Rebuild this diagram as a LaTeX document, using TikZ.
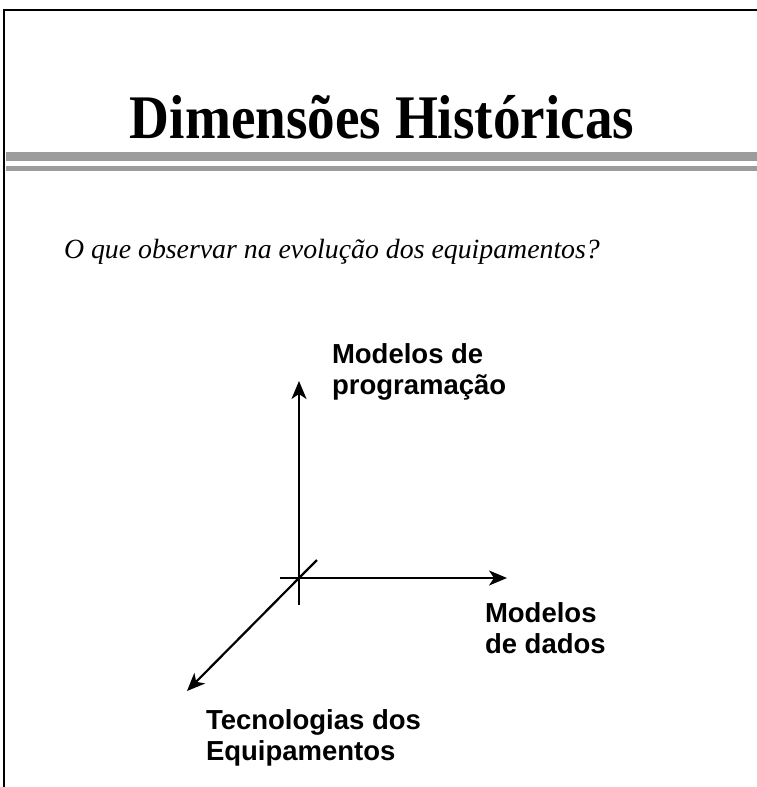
\documentclass[tikz,border=0pt]{standalone}
\usepackage{fontspec}
\setmainfont{Liberation Serif}
\setsansfont{Liberation Sans}
\usetikzlibrary{positioning,arrows.meta}
\tikzset{>={Stealth[length=18pt,width=15pt,inset=5pt]}}
\definecolor{cBar}{RGB}{156,156,156}

\begin{document}
\begin{tikzpicture}[x=1pt, y=-1pt, line width=2pt]

% Stiler.
\tikzset{
  titletext/.style={font=\fontsize{62}{66}\selectfont\bfseries, inner sep=0pt},
  subtext/.style={font=\fontsize{27.8}{32}\selectfont\itshape, inner sep=0pt, anchor=west},
  axislabel/.style={font=\sffamily\bfseries\fontsize{27.5}{31.5}\selectfont, align=left, inner sep=0pt, anchor=west},
  axis/.style={line width=2.2pt}
}

% Ramme.
\useasboundingbox (0,0) rectangle (757,787);
\draw[line width=2.5pt] (4,787) -- (4,10) -- (757,10);

% Tittel og striper.
\node (title) [titletext] at (382,117) {\scalebox{0.89}[1]{Dimensões Históricas}};
\fill[cBar] (5.5,152) rectangle (757,161);
\fill[cBar] (5.5,166) rectangle (757,171);

% Spørsmål.
\node (question) [subtext] at (63,252) {O que observar na evolução dos equipamentos?};

% Akser.
\coordinate (origin) at (299,578);
\coordinate (vtop) at (299,381);
\coordinate (vbot) at (299,605);
\coordinate (hleft) at (280,578);
\coordinate (hright) at (507,578);
\coordinate (dtail) at (317,560);
\coordinate (dtip) at (187,691);

\draw[axis] (vbot) -- (origin);
\draw[axis,->] (origin) -- (vtop);
\draw[axis] (hleft) -- (origin);
\draw[axis,->] (origin) -- (hright);
\draw[axis] (dtail) -- (origin);
\draw[axis,->] (origin) -- (dtip);

% Etiketter.
\node (prog) [axislabel] at (331,372) {Modelos de\\programação};
\node (data) [axislabel] at (484,628) {Modelos\\de dados};
\node (tech) [axislabel] at (205,738) {Tecnologias dos\\Equipamentos};
\end{tikzpicture}
\end{document}
